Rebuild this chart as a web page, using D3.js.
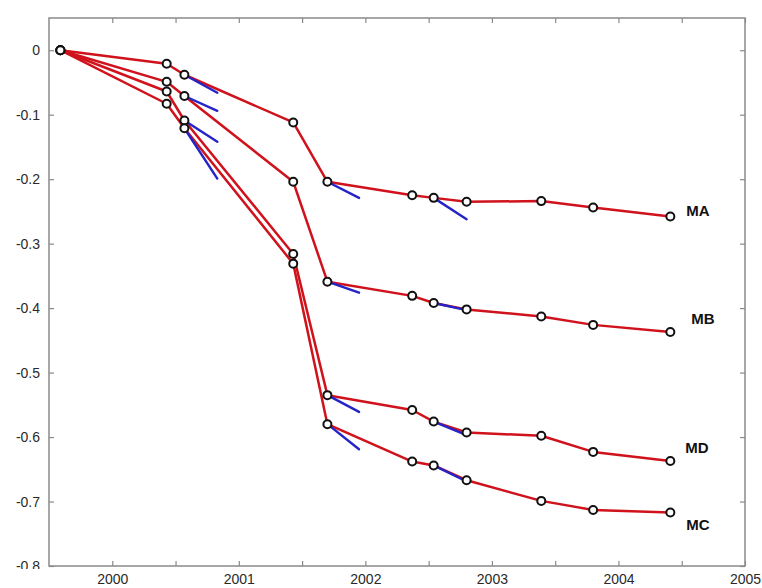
<!DOCTYPE html>
<html>
<head>
<meta charset="utf-8">
<script src="https://cdn.jsdelivr.net/npm/d3@7"></script>
<style>
  body { margin: 0; background: #fff; }
  svg { display: block; font-family: "Liberation Sans", Arial, sans-serif; }
</style>
</head>
<body>
<svg id="chart" width="762" height="588"></svg>
<script>
// survey epochs (decimal years)
const dates = [1999.59, 2000.43, 2000.57, 2001.43, 2001.70, 2002.37, 2002.54, 2002.80, 2003.39, 2003.80, 2004.41];
const seriesNames = ["MA", "MB", "MD", "MC"];
const valuesMA = [0, -0.021, -0.038, -0.112, -0.204, -0.225, -0.229, -0.235, -0.234, -0.244, -0.258];
const valuesMB = [0, -0.049, -0.071, -0.204, -0.359, -0.381, -0.392, -0.402, -0.413, -0.426, -0.437];
const valuesMD = [0, -0.064, -0.109, -0.316, -0.535, -0.558, -0.576, -0.593, -0.598, -0.623, -0.637];
const valuesMC = [0, -0.083, -0.121, -0.331, -0.580, -0.638, -0.644, -0.667, -0.699, -0.713, -0.717];

// blue trend segments: start at dates[tangentStart[i]], end at tangentEndDates[i]
const tangentStart = [2, 4, 6];
const tangentEndDates = [2000.83, 2001.95, 2002.80];
const tangentEndMA = [-0.066, -0.229, -0.262];
const tangentEndMB = [-0.094, -0.376, -0.403];
const tangentEndMD = [-0.142, -0.561, -0.597];
const tangentEndMC = [-0.199, -0.619, -0.669];

const xTicks = [2000, 2000.5, 2001, 2001.5, 2002, 2002.5, 2003, 2003.5, 2004, 2004.5, 2005];
const xTickLabels = ["2000", "", "2001", "", "2002", "", "2003", "", "2004", "", "2005"];
const yTicks = [0, -0.1, -0.2, -0.3, -0.4, -0.5, -0.6, -0.7, -0.8];
const yTickLabels = ["0", "-0.1", "-0.2", "-0.3", "-0.4", "-0.5", "-0.6", "-0.7", "-0.8"];

const series = [
  { name: "MA", values: valuesMA, tangents: tangentEndMA },
  { name: "MB", values: valuesMB, tangents: tangentEndMB },
  { name: "MD", values: valuesMD, tangents: tangentEndMD },
  { name: "MC", values: valuesMC, tangents: tangentEndMC },
];

// label offsets from last point (style only)
const labelOffset = { MA: [16, -1], MB: [21, -8], MD: [15, -8], MC: [16, 18] };

const margin = { left: 49, top: 18, right: 17, bottom: 22 };
const svg = d3.select("#chart");
const W = +svg.attr("width"), H = +svg.attr("height");

const x = d3.scaleLinear().domain([1999.5, 2005]).range([margin.left, W - margin.right]);
const y = d3.scaleLinear().domain([-0.8, 0.05]).range([H - margin.bottom, margin.top]);

const axisColor = "#8a8a8a";
const textColor = "#2a2a2a";

// frame
svg.append("rect")
  .attr("x", x.range()[0]).attr("y", y.range()[1])
  .attr("width", x.range()[1] - x.range()[0])
  .attr("height", y.range()[0] - y.range()[1])
  .attr("fill", "none").attr("stroke", axisColor).attr("stroke-width", 1.5);

// inner ticks on all four sides, MATLAB style
function styleAxis(g) {
  g.select(".domain").remove();
  g.selectAll(".tick line").attr("stroke", axisColor).attr("stroke-width", 1.2);
  g.selectAll(".tick text").attr("fill", textColor).style("font-size", "14px");
}

svg.append("g")
  .attr("transform", `translate(${margin.left},0)`)
  .call(d3.axisLeft(y).tickValues(yTicks).tickSize(-5).tickPadding(9)
    .tickFormat((d, i) => yTickLabels[i]))
  .call(styleAxis);

svg.append("g")
  .attr("transform", `translate(${W - margin.right},0)`)
  .call(d3.axisRight(y).tickValues(yTicks).tickSize(-5).tickFormat(""))
  .call(styleAxis);

svg.append("g")
  .attr("transform", `translate(0,${margin.top})`)
  .call(d3.axisTop(x).tickValues(xTicks).tickSize(-5).tickFormat(""))
  .call(styleAxis);

// lower half of the bottom-left label is hidden behind the date strip
svg.append("rect")
  .attr("x", 0).attr("y", H - margin.bottom + 3)
  .attr("width", W).attr("height", margin.bottom)
  .attr("fill", "#fff");

svg.append("g")
  .attr("transform", `translate(0,${H - margin.bottom})`)
  .call(d3.axisBottom(x).tickValues(xTicks).tickSize(-5).tickPadding(8)
    .tickFormat((d, i) => xTickLabels[i]))
  .call(styleAxis);

const line = d3.line()
  .x((d) => x(d[0]))
  .y((d) => y(d[1]));

const plot = svg.append("g");

// red survey lines
plot.selectAll("path.series")
  .data(series)
  .join("path")
  .attr("class", "series")
  .attr("fill", "none")
  .attr("stroke", "#d0121c")
  .attr("stroke-width", 2.5)
  .attr("stroke-linejoin", "round")
  .attr("d", (s) => line(dates.map((t, i) => [t, s.values[i]])));

// blue trend segments
const segs = [];
series.forEach((s) => {
  tangentStart.forEach((k, j) => {
    segs.push([[dates[k], s.values[k]], [tangentEndDates[j], s.tangents[j]]]);
  });
});
plot.selectAll("path.trend")
  .data(segs)
  .join("path")
  .attr("class", "trend")
  .attr("fill", "none")
  .attr("stroke", "#2424c8")
  .attr("stroke-width", 2.4)
  .attr("stroke-linecap", "round")
  .attr("d", line);

// circle markers
series.forEach((s) => {
  plot.append("g")
    .selectAll("circle")
    .data(dates.map((t, i) => [t, s.values[i]]))
    .join("circle")
    .attr("cx", (d) => x(d[0]))
    .attr("cy", (d) => y(d[1]))
    .attr("r", 4)
    .attr("fill", "#fff")
    .attr("stroke", "#111")
    .attr("stroke-width", 2);
});

// series labels
plot.selectAll("text.label")
  .data(series)
  .join("text")
  .attr("class", "label")
  .attr("x", (s) => x(dates[dates.length - 1]) + labelOffset[s.name][0])
  .attr("y", (s) => y(s.values[s.values.length - 1]) + labelOffset[s.name][1])
  .attr("fill", "#111")
  .style("font-size", "15px")
  .style("font-weight", "bold")
  .text((s) => s.name);
</script>
</body>
</html>
